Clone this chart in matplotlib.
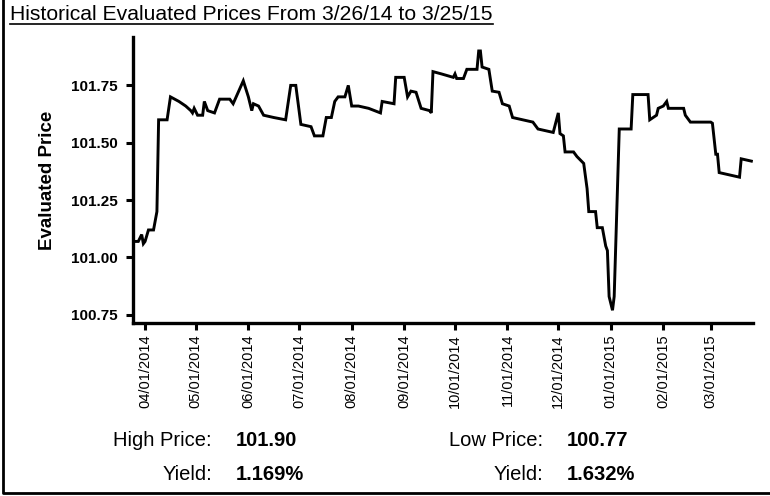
import matplotlib
matplotlib.use('Agg')
import matplotlib.pyplot as plt
import matplotlib.dates as mdates
from matplotlib.lines import Line2D
import pandas as pd

plt.rcParams['font.family'] = ['Liberation Sans', 'DejaVu Sans']

title = "Historical Evaluated Prices From 3/26/14 to 3/25/15"

dates = [
    "2014-03-26", "2014-03-28", "2014-03-30", "2014-03-31", "2014-04-01", "2014-04-03",
    "2014-04-06", "2014-04-08", "2014-04-09", "2014-04-14", "2014-04-16", "2014-04-21",
    "2014-04-25", "2014-04-28", "2014-04-29", "2014-04-30", "2014-05-02", "2014-05-05",
    "2014-05-06", "2014-05-08", "2014-05-12", "2014-05-15", "2014-05-21", "2014-05-23",
    "2014-05-26", "2014-05-29", "2014-06-01", "2014-06-03", "2014-06-04", "2014-06-07",
    "2014-06-10", "2014-06-16", "2014-06-23", "2014-06-26", "2014-06-29", "2014-07-02",
    "2014-07-08", "2014-07-10", "2014-07-15", "2014-07-17", "2014-07-20", "2014-07-22",
    "2014-07-24", "2014-07-28", "2014-07-30", "2014-08-01", "2014-08-05", "2014-08-11",
    "2014-08-18", "2014-08-19", "2014-08-26", "2014-08-27", "2014-09-01", "2014-09-03",
    "2014-09-05", "2014-09-08", "2014-09-11", "2014-09-16", "2014-09-17", "2014-09-18",
    "2014-09-23", "2014-09-30", "2014-10-01", "2014-10-02", "2014-10-06", "2014-10-08",
    "2014-10-14", "2014-10-15", "2014-10-16", "2014-10-17", "2014-10-21", "2014-10-23",
    "2014-10-27", "2014-10-29", "2014-11-02", "2014-11-04", "2014-11-10", "2014-11-16",
    "2014-11-19", "2014-11-25", "2014-11-28", "2014-12-01", "2014-12-02", "2014-12-04",
    "2014-12-05", "2014-12-10", "2014-12-12", "2014-12-16", "2014-12-18", "2014-12-19",
    "2014-12-23", "2014-12-24", "2014-12-27", "2014-12-29", "2014-12-30", "2014-12-31",
    "2015-01-02", "2015-01-03", "2015-01-06", "2015-01-13", "2015-01-14", "2015-01-23",
    "2015-01-24", "2015-01-28", "2015-01-29", "2015-02-01", "2015-02-03", "2015-02-04",
    "2015-02-13", "2015-02-14", "2015-02-17", "2015-03-01", "2015-03-02", "2015-03-04",
    "2015-03-05", "2015-03-06", "2015-03-12", "2015-03-18", "2015-03-19", "2015-03-25",
]
prices = [
    101.07, 101.07, 101.10, 101.06, 101.07, 101.12,
    101.12, 101.20, 101.60, 101.60, 101.70, 101.68,
    101.66, 101.64, 101.63, 101.65, 101.62, 101.62,
    101.68, 101.64, 101.63, 101.69, 101.69, 101.67,
    101.72, 101.77, 101.70, 101.64, 101.67, 101.66,
    101.62, 101.61, 101.60, 101.75, 101.75, 101.58,
    101.57, 101.53, 101.53, 101.61, 101.61, 101.68,
    101.70, 101.70, 101.75, 101.66, 101.66, 101.65,
    101.63, 101.68, 101.67, 101.785, 101.785, 101.70,
    101.725, 101.72, 101.65, 101.64, 101.63, 101.81,
    101.80, 101.785, 101.80, 101.78, 101.78, 101.82,
    101.82, 101.90, 101.90, 101.83, 101.82, 101.725,
    101.72, 101.67, 101.66, 101.61, 101.60, 101.59,
    101.56, 101.55, 101.545, 101.63, 101.54, 101.53,
    101.46, 101.46, 101.44, 101.41, 101.30, 101.20,
    101.20, 101.13, 101.13, 101.05, 101.03, 100.83,
    100.77, 100.83, 101.56, 101.56, 101.71, 101.71,
    101.60, 101.62, 101.65, 101.66, 101.68, 101.65,
    101.65, 101.62, 101.59, 101.59, 101.585, 101.45,
    101.45, 101.37, 101.36, 101.35, 101.43, 101.42,
]

yticks = [100.75, 101.00, 101.25, 101.50, 101.75]
high_price, high_yield = "101.90", "1.169%"
low_price, low_yield = "100.77", "1.632%"

x = pd.to_datetime(dates)

fig = plt.figure(figsize=(7.7, 4.96), dpi=100)
ax = fig.add_axes([0.173, 0.349, 0.805, 0.576])
ax.plot(x, prices, color='black', lw=2.1, solid_joinstyle='miter')

ax.set_xlim(pd.Timestamp("2014-03-25"), pd.Timestamp("2015-03-26"))
ax.set_ylim(100.715, 101.96)
ax.set_yticks(yticks)
ax.set_yticklabels(["%.2f" % v for v in yticks], fontweight='bold', fontsize=11)
ax.xaxis.set_major_locator(mdates.MonthLocator())
ax.xaxis.set_major_formatter(mdates.DateFormatter('%m/%d/%Y'))
for lab in ax.get_xticklabels():
    lab.set_rotation(90)
    lab.set_fontsize(10.5)
ax.tick_params(axis='both', length=5, width=2.2, color='black')
ax.tick_params(axis='x', pad=3)
ax.tick_params(axis='y', pad=6)
ax.set_ylabel("Evaluated Price", fontweight='bold', fontsize=13.5, labelpad=11)

for s in ['top', 'right']:
    ax.spines[s].set_visible(False)
for s in ['left', 'bottom']:
    ax.spines[s].set_linewidth(2.4)

# title with underline
t = fig.text(10 / 770, 1 - 15 / 496, title, fontsize=15.2, va='center', ha='left')
fig.canvas.draw()
bb = t.get_window_extent().transformed(fig.transFigure.inverted())
fig.add_artist(Line2D([bb.x0, bb.x1], [1 - 24 / 496] * 2, color='black', lw=1.2,
                      transform=fig.transFigure))

# outer frame: left and bottom
fig.add_artist(Line2D([3 / 770, 3 / 770, 1.0], [1.0, 3 / 496, 3 / 496],
                      color='black', lw=2.0, transform=fig.transFigure))

# summary text
row1, row2 = 1 - 441 / 496, 1 - 475 / 496
fs = 14.5
fig.text(212 / 770, row1, "High Price:", ha='right', va='center', fontsize=fs)
fig.text(236 / 770, row1, high_price, ha='left', va='center', fontsize=fs, fontweight='bold')
fig.text(212 / 770, row2, "Yield:", ha='right', va='center', fontsize=fs)
fig.text(236 / 770, row2, high_yield, ha='left', va='center', fontsize=fs, fontweight='bold')
fig.text(543 / 770, row1, "Low Price:", ha='right', va='center', fontsize=fs)
fig.text(567 / 770, row1, low_price, ha='left', va='center', fontsize=fs, fontweight='bold')
fig.text(543 / 770, row2, "Yield:", ha='right', va='center', fontsize=fs)
fig.text(567 / 770, row2, low_yield, ha='left', va='center', fontsize=fs, fontweight='bold')

fig.savefig('out.png', dpi=100)
plt.close(fig)
